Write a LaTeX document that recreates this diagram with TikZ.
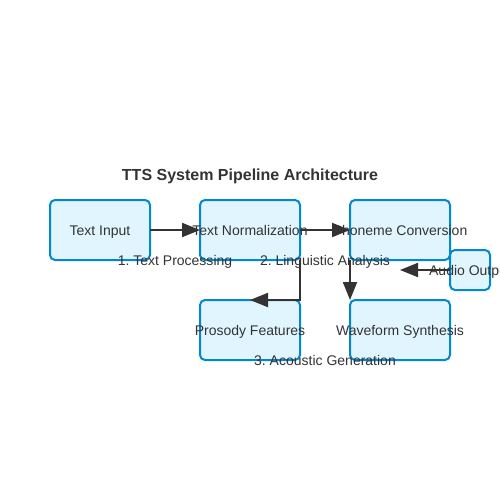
\documentclass[tikz,border=0pt]{standalone}
\usepackage{fontspec}
\setmainfont{Liberation Sans}
\usetikzlibrary{arrows.meta}
\definecolor{boxfill}{HTML}{E1F5FE}
\definecolor{boxline}{HTML}{0288D1}
\definecolor{ink}{HTML}{333333}
\frenchspacing
\tikzset{
  stage/.style={draw=boxline,fill=boxfill,line width=2pt,rounded corners=5pt,
    inner sep=0pt,outer sep=0pt,minimum width=100pt,minimum height=60pt},
  flow/.style={draw=ink,line width=2pt,-{Triangle[length=18pt,width=14pt]}},
  txt/.style={text=ink,font=\fontsize{14}{16}\selectfont,inner sep=0pt,anchor=base,yshift=-5pt}
}
\begin{document}
\begin{tikzpicture}[x=1pt,y=-1pt]
	\useasboundingbox (0,0) rectangle (500,500);
	
	\node[text=ink,font=\fontsize{16}{18}\selectfont\bfseries,inner sep=0pt,anchor=base] (title) at (250,180) {TTS System Pipeline Architecture};
	
	\node[stage] (input) at (100,230) {};
	\node[stage] (norm) at (250,230) {};
	\node[stage] (phon) at (400,230) {};
	\node[stage] (pros) at (250,330) {};
	\node[stage] (wave) at (400,330) {};
	\node[stage,minimum width=40pt,minimum height=40pt] (audio) at (470,270) {};
	\coordinate (audioend) at (400,270);
	
	\draw[flow] (input.east) -- (norm.west);
	\draw[flow] (norm.east) -- (phon.west);
	\draw[flow] (norm.south east) |- (pros.north);
	\draw[flow] (phon.south west) -- (wave.north west);
	\draw[flow] (audio.west) -- (audioend);
	
	\node[txt] at (input) {Text Input};
	\node[txt] at (norm) {Text Normalization};
	\node[txt] at (phon) {Phoneme Conversion};
	\node[txt] at (pros) {Prosody Features};
	\node[txt] at (wave) {Waveform Synthesis};
	\node[txt] at (audio) {Audio Output};
	
	\node[txt] (lab1) at (175,260) {1. Text Processing};
	\node[txt] (lab2) at (325,260) {2. Linguistic Analysis};
	\node[txt] (lab3) at (325,360) {3. Acoustic Generation};
	
\end{tikzpicture}
\end{document}
